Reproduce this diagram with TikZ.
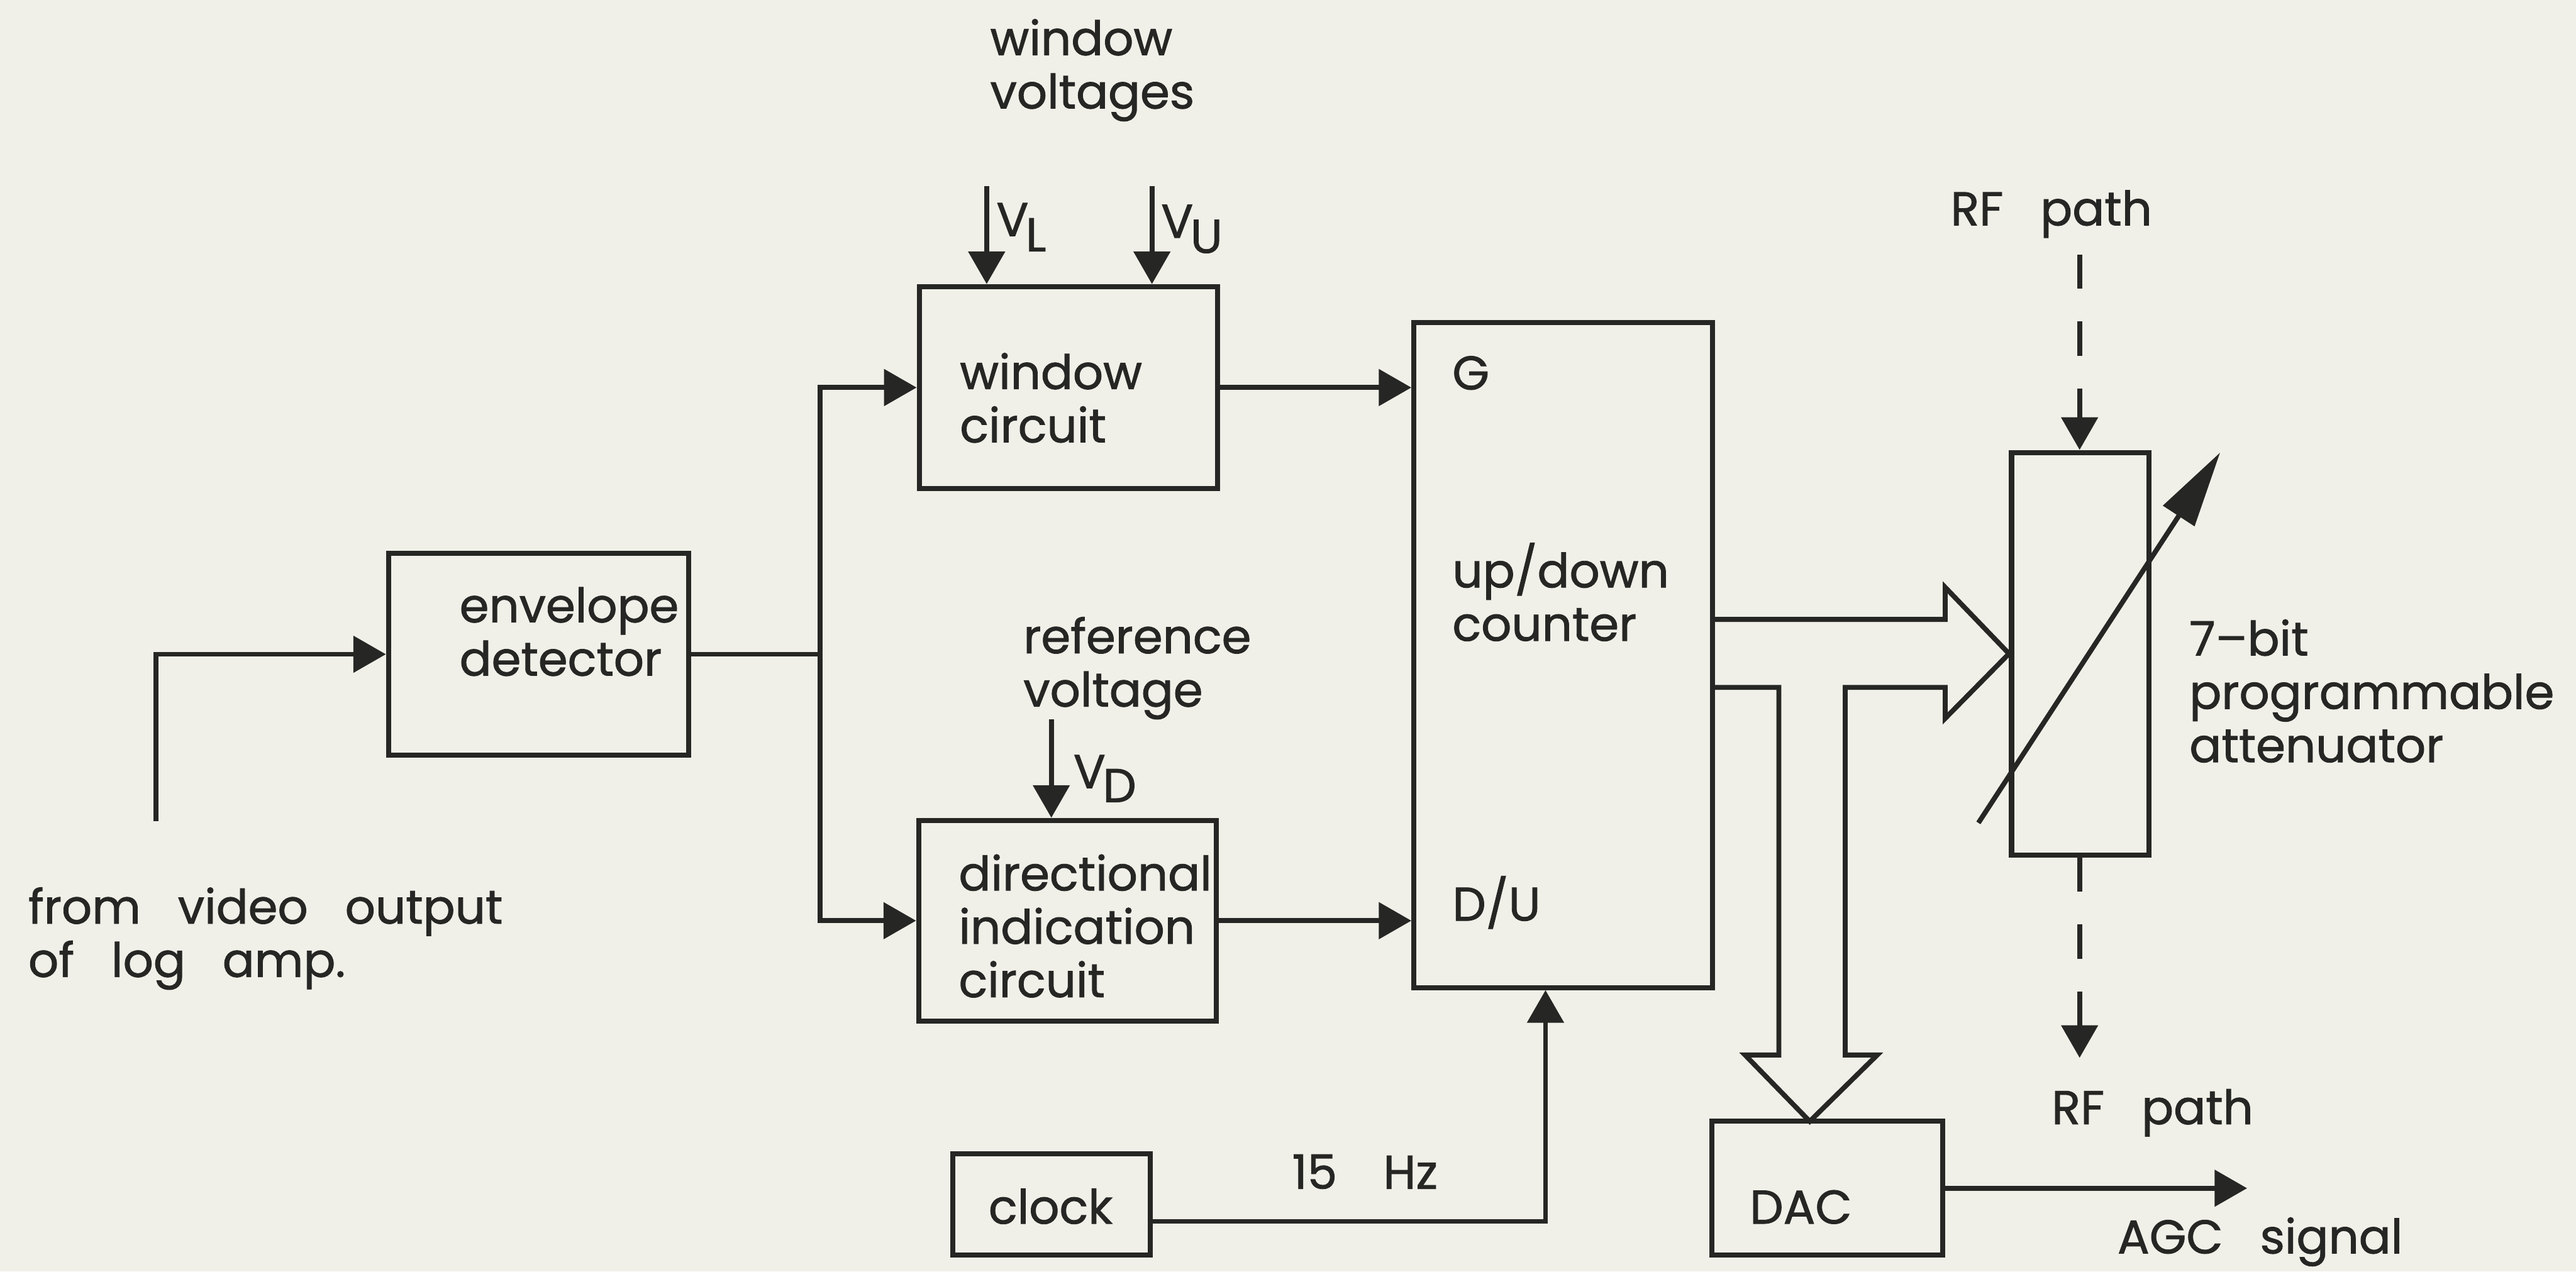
\documentclass[tikz,border=0pt]{standalone}
\usepackage{fontspec}
\setmainfont{Poppins}[FakeBold=1.2]
\usetikzlibrary{positioning,arrows.meta}
\definecolor{paper}{RGB}{240,240,233}
\definecolor{ink}{RGB}{38,38,36}
\newcommand{\wgap}{\hspace{0.66cm}}

\begin{document}
\begin{tikzpicture}[>={Triangle[length=5.8mm,width=6.4mm]}, line width=2.5pt, color=ink,
  every node/.style={font=\fontsize{24}{27}\selectfont},
  blk/.style={draw, line width=2.6pt, inner sep=0pt},
  txt/.style={anchor=base west, inner sep=0pt, align=left},
  rfdash/.style={dash pattern=on 6.1mm off 5.8mm}]
  \fill[paper] (0,0) rectangle (45.82,22.62);
  \useasboundingbox (0,0) rectangle (45.82,22.62);

  % blocks
  \node[blk, minimum width=5.34cm, minimum height=3.59cm] (env) at (9.58,10.98) {};
  \node[blk, minimum width=5.31cm, minimum height=3.59cm] (win) at (19.005,15.725) {};
  \node[blk, minimum width=5.29cm, minimum height=3.57cm] (dir) at (18.985,6.24) {};
  \node[blk, minimum width=5.31cm, minimum height=11.83cm] (cnt) at (27.805,10.965) {};
  \node[blk, minimum width=2.44cm, minimum height=7.16cm] (att) at (37.00,10.99) {};
  \node[blk, minimum width=3.51cm, minimum height=1.80cm] (clk) at (18.705,1.19) {};
  \node[blk, minimum width=4.10cm, minimum height=2.38cm] (dac) at (32.50,1.48) {};

  % texts (base = last line)
  \node[txt] (envtxt) at (8.13,10.60) {envelope\\detector};
  \node[txt] (wintxt) at (17.03,14.75) {window\\circuit};
  \node[txt] (dirtxt) at (17.01,4.88) {directional\\indication\\circuit};
  \node[txt] (cnttxt) at (25.79,11.22) {up/down\\counter};
  \node[txt] (gtxt) at (25.79,15.69) {G};
  \node[txt] (dutxt) at (25.79,6.24) {D/U};
  \node[txt] (clktxt) at (17.54,0.85) {clock};
  \node[txt] (dactxt) at (31.08,0.85) {DAC};
  \node[txt] (hztxt) at (22.94,1.47) {15\hspace{0.82cm}Hz};
  \node[txt] (srctxt) at (0.46,5.24) {from\wgap video\wgap output\\of\wgap log\wgap amp.};
  \node[txt] (wvtxt) at (17.57,20.69) {window\\voltages};
  \node[txt] (rvtxt) at (18.16,10.05) {reference\\voltage};
  \node[txt] (atttxt) at (38.90,9.06) {7--bit\\programmable\\attenuator};
  \node[txt] (rfin) at (34.65,18.61) {RF\wgap path};
  \node[txt] (rfout) at (36.45,2.62) {RF\wgap path};
  \node[txt] (agctxt) at (37.62,0.32) {AGC\wgap signal};
  \node[txt] (vltxt) at (17.68,18.42) {V\kern-0.5mm\raisebox{-2.7mm}{L}};
  \node[txt] (vutxt) at (20.61,18.39) {V\kern-0.5mm\raisebox{-2.7mm}{U}};
  \node[txt] (vdtxt) at (19.05,8.60) {V\kern-0.5mm\raisebox{-2.5mm}{D}};

  % free ends
  \coordinate (src) at (2.77,8.01);
  \coordinate (jn) at (14.59,10.98);
  \coordinate (vl) at (17.55,19.31);
  \coordinate (vu) at (20.49,19.31);
  \coordinate (vd) at (18.70,9.82);
  \coordinate (rftop) at (36.99,18.09);
  \coordinate (rfbot) at (36.99,3.80);
  \coordinate (agc) at (39.97,1.48);

  % signal lines
  \draw[->] (src) |- (env.west);
  \draw (env.east) -- (jn);
  \draw[->] (jn) |- (win.west);
  \draw[->] (jn) |- (dir.west);
  \draw[->] (win.east) -- (win.east -| cnt.west);
  \draw[->] (dir.east) -- (dir.east -| cnt.west);
  \draw[->] (vl) -- (vl |- win.north);
  \draw[->] (vu) -- (vu |- win.north);
  \draw[->] (vd) -- (vd |- dir.north);
  \draw[->] ([yshift=-3mm]clk.east) -| ([xshift=-3.15mm]cnt.south);
  \draw[->] (dac.east) -- (agc);
  \draw[->, rfdash] (rftop) -- (rftop |- att.north);
  \draw[->, rfdash] (rfbot |- att.south) -- (rfbot);
  \draw[-{Triangle[length=13.5mm,width=6.5mm]}] (35.19,7.98) -- (39.49,14.57);

  % 7-bit bus
  \draw[line join=miter] (cnt.east |- 0,11.60) -- (34.60,11.60) -- (34.60,12.17) -- (att.west)
    -- (34.60,9.84) -- (34.60,10.39) -- (32.82,10.39) -- (32.82,3.85) -- (33.39,3.85)
    -- (32.19,2.67) -- (31.04,3.85) -- (31.64,3.85) -- (31.64,10.39) -- (cnt.east |- 0,10.39);
\end{tikzpicture}
\end{document}
